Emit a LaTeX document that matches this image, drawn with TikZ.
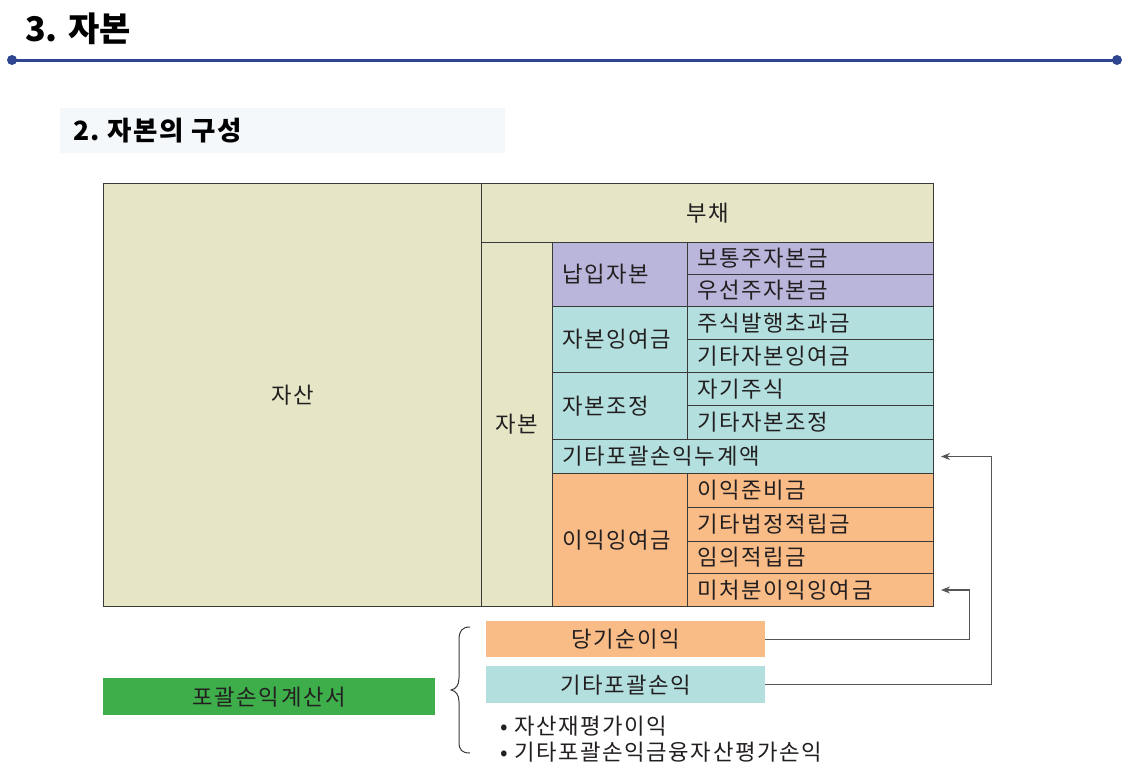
\documentclass[tikz,border=0pt]{standalone}
\usepackage{fontspec}
\setmainfont{Noto Sans CJK KR}
\newfontfamily\cellfont[LetterSpace=7]{Noto Sans CJK KR}
\newfontfamily\subfont[LetterSpace=6]{Noto Sans CJK KR}
\usetikzlibrary{arrows.meta}
\definecolor{beige}{HTML}{E6E5C6}
\definecolor{purp}{HTML}{BAB6DB}
\definecolor{teal}{HTML}{B3E0DF}
\definecolor{orng}{HTML}{F9BC87}
\definecolor{grn}{HTML}{3EAE4A}
\definecolor{hblue}{HTML}{2F4590}
\definecolor{subbg}{HTML}{F4F8FA}
\definecolor{linec}{HTML}{3A3A3A}
\definecolor{txt}{HTML}{231F20}
\definecolor{conc}{HTML}{555555}
\newcommand\mkcell[8]{%
  \pgfmathsetmacro\cw{#4-20}%
  \node[cell, fill=#6, minimum width=#4pt, minimum height=#5pt, text width=\cw pt, align=#7] (#1) at (#2,#3) {#8};}
\begin{document}
\begin{tikzpicture}[x=1pt,y=-1pt,
  cell/.style={draw=linec, line width=1pt, anchor=north west, inner xsep=10pt, inner ysep=0pt,
    font=\cellfont\fontsize{22.3}{24}\selectfont, text=txt},
  plainbox/.style={anchor=north west, inner sep=0pt, font=\cellfont\fontsize{22.3}{24}\selectfont, text=txt, align=center},
  conn/.style={draw=conc, line width=1.3pt, -{Stealth[length=9pt,width=7pt]}},
  bul/.style={anchor=west, inner sep=0pt, font=\cellfont\fontsize{22.3}{24}\selectfont, text=txt}]
\useasboundingbox (0,0) rectangle (1130,771);
% header
\node[anchor=west, inner sep=0pt, font=\fontsize{34}{38}\selectfont\bfseries] (title) at (25,29) {3. 자본};
\coordinate (hl) at (12,60);
\coordinate (hr) at (1117,60);
\draw[hblue, line width=3pt] (hl) -- (hr);
\fill[hblue] (hl) circle (5);
\fill[hblue] (hr) circle (5);
\node[anchor=north west, fill=subbg, minimum width=445pt, minimum height=45pt, inner sep=0pt] (subbox) at (60,108) {};
\node[anchor=west, inner sep=0pt, font=\subfont\fontsize{26.5}{28}\selectfont\bfseries] (subtitle) at (73,131) {2.\ 자본의\ 구성};
% table
\mkcell{jasan}{103}{183}{378}{423}{beige}{center}{자산}
\mkcell{buchae}{481}{183}{452}{59}{beige}{center}{부채}
\mkcell{jabon}{481}{242}{71}{364}{beige}{center}{\raisebox{-6pt}{자본}}
\mkcell{napip}{552}{242}{135}{64}{purp}{left}{납입자본}
\mkcell{botong}{687}{242}{246}{32}{purp}{left}{보통주자본금}
\mkcell{useon}{687}{274}{246}{32}{purp}{left}{우선주자본금}
\mkcell{jaing}{552}{306}{135}{66}{teal}{left}{자본잉여금}
\mkcell{jusik}{687}{306}{246}{33}{teal}{left}{주식발행초과금}
\mkcell{gitaing}{687}{339}{246}{33}{teal}{left}{기타자본잉여금}
\mkcell{jojeong}{552}{372}{135}{67}{teal}{left}{자본조정}
\mkcell{jagi}{687}{372}{246}{33}{teal}{left}{자기주식}
\mkcell{gitajo}{687}{405}{246}{34}{teal}{left}{기타자본조정}
\mkcell{nugye}{552}{439}{381}{34}{teal}{left}{기타포괄손익누계액}
\mkcell{iik}{552}{473}{135}{133}{orng}{left}{이익잉여금}
\mkcell{junbi}{687}{473}{246}{34}{orng}{left}{이익준비금}
\mkcell{beop}{687}{507}{246}{34}{orng}{left}{기타법정적립금}
\mkcell{imui}{687}{541}{246}{32}{orng}{left}{임의적립금}
\mkcell{michu}{687}{573}{246}{33}{orng}{left}{미처분이익잉여금}
% lower boxes
\node[plainbox, fill=orng, minimum width=279pt, minimum height=36pt] (dangi) at (486,621) {당기순이익};
\node[plainbox, fill=teal, minimum width=279pt, minimum height=37pt] (gitapo) at (486,666) {기타포괄손익};
\node[plainbox, fill=grn, minimum width=332pt, minimum height=37pt] (pogwal) at (103,678) {포괄손익계산서};
\node[bul] (b1) at (500,726) {•\ 자산재평가이익};
\node[bul] (b2) at (500,752) {•\ 기타포괄손익금융자산평가손익};
% brace
\draw[linec, line width=1pt] (470,627) .. controls (462,627) and (459,631) .. (459,640) -- (459,678)
  .. controls (459,685) and (456,689) .. (451,690) .. controls (456,691) and (459,695) .. (459,702)
  -- (459,742) .. controls (459,750) and (462,753) .. (470,753);
% connectors
\draw[conn] (dangi.east) -- ++(204,0) |- ([xshift=7pt]michu.east);
\draw[conn] (gitapo.east) -- ++(226,0) |- ([xshift=7pt]nugye.east);
\end{tikzpicture}
\end{document}
